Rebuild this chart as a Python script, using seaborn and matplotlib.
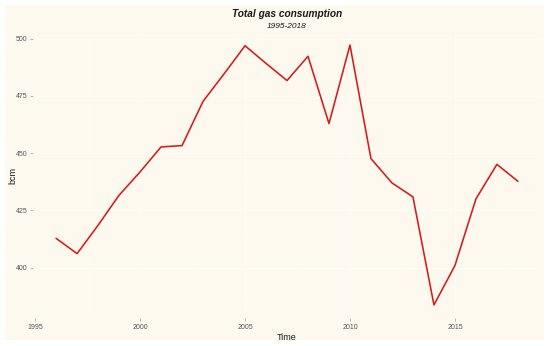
import pandas as pd
import matplotlib
matplotlib.use("Agg")
import matplotlib.pyplot as plt
import seaborn as sns
from matplotlib.patches import Rectangle

# dati
years = [1996, 1997, 1998, 1999, 2000, 2001, 2002, 2003, 2004, 2005, 2006, 2007,
         2008, 2009, 2010, 2011, 2012, 2013, 2014, 2015, 2016, 2017, 2018]
bcm = [412.8, 406.1, 418.5, 431.6, 441.8, 452.7, 453.3, 472.6, 484.6, 496.9, 489.2, 481.7,
       492.3, 462.9, 497.2, 447.6, 437.0, 430.9, 383.7, 400.9, 430.0, 445.1, 437.7]

df = pd.DataFrame({'Time': years, 'bcm': bcm})

bg = '#fdf9ef'
sns.set_theme(style='white')
plt.rcParams['font.family'] = ['Liberation Sans', 'DejaVu Sans']

fig = plt.figure(figsize=(5.5, 3.46), dpi=100)
fig.patch.set_facecolor('white')
# sfondo crema con bordo bianco
fig.patches.append(Rectangle((5 / 550, 6 / 346), 539 / 550, 335 / 346,
                             transform=fig.transFigure, facecolor=bg,
                             edgecolor='none', zorder=-1))
ax = fig.add_axes([33 / 550, 1 - 318 / 346, 508 / 550, 286 / 346])
ax.set_facecolor(bg)

sns.lineplot(data=df, x='Time', y='bcm', color='#d7191c', linewidth=1.15, ax=ax)

ax.set_xlim(1994.9, 2019.1)
ax.set_ylim(378.0, 502.9)
ax.set_xticks([1995, 2000, 2005, 2010, 2015])
ax.set_yticks([400, 425, 450, 475, 500])
ax.set_xticks([1997.5, 2002.5, 2007.5, 2012.5, 2017.5], minor=True)
ax.set_yticks([387.5, 412.5, 437.5, 462.5, 487.5], minor=True)
ax.grid(True, which='major', color='#fffdf8', linewidth=0.7)
ax.grid(True, which='minor', color='#fffcf6', linewidth=0.4)
ax.set_axisbelow(True)
for s in ax.spines.values():
    s.set_visible(False)

ax.tick_params(axis='both', which='major', labelsize=5, colors='#9a9a9a',
               labelcolor='#555555', length=2, width=0.5, pad=2,
               bottom=True, left=True)
ax.tick_params(axis='both', which='minor', length=0)

ax.set_xlabel('Time', fontsize=6.5, color='#1a1a1a', labelpad=2)
ax.set_ylabel('bcm', fontsize=6.5, color='#1a1a1a')
ax.yaxis.set_label_coords(-16 / 508, 0.5)

fig.text(287 / 550, 1 - 14 / 346, 'Total gas consumption', ha='center', va='center',
         fontsize=7.3, fontweight='bold', fontstyle='italic', color='#1a1a1a')
fig.text(287 / 550, 1 - 26 / 346, '1995-2018', ha='center', va='center',
         fontsize=6, fontstyle='italic', color='#1a1a1a')

fig.savefig('out.png', dpi=100, facecolor='white')
